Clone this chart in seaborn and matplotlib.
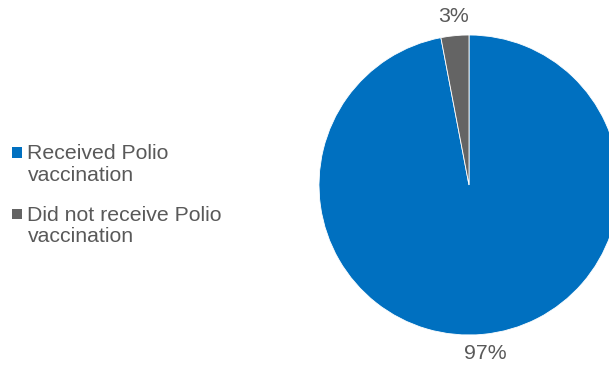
import matplotlib
matplotlib.use("Agg")
import matplotlib.pyplot as plt
import seaborn as sns
from matplotlib.patches import Patch, Rectangle
from matplotlib.legend_handler import HandlerPatch

labels = ["Received Polio\nvaccination", "Did not receive Polio\nvaccination"]
shares = [97, 3]
colors = ["#0070C0", "#646464"]
text_color = "#595959"

sns.set_style("white")
plt.rcParams["font.family"] = ["Liberation Sans", "DejaVu Sans"]

fig = plt.figure(figsize=(6.09, 3.71), dpi=100)
ax = fig.add_axes([0, 0, 1, 1])

wedges, texts, autotexts = ax.pie(
    shares, colors=colors, startangle=90, counterclock=False,
    center=(469, 186), radius=150, autopct="%d%%", pctdistance=1.13,
    wedgeprops={"edgecolor": "white", "linewidth": 0.6},
    textprops={"fontsize": 15.3, "color": text_color},
)
ax.set_xlim(0, 609)
ax.set_ylim(0, 371)
ax.set_aspect("equal")
ax.axis("off")


# square marker sitting next to the first line of a two-line label
def top_square(legend, orig_handle, xdescent, ydescent, width, height, fontsize):
    side = 7.5
    return Rectangle((-xdescent, -ydescent + height / 2 - side / 2 + 8.5), side, side)


handles = [Patch(facecolor=c, edgecolor="none") for c in colors]
leg = fig.legend(handles, labels, loc="center left", bbox_to_anchor=(0.005, 0.474),
                 frameon=False, fontsize=15.3, handlelength=0.5, handleheight=0.5,
                 handletextpad=0.25, labelspacing=1.0, borderaxespad=0,
                 handler_map={Patch: HandlerPatch(patch_func=top_square)})
for t in leg.get_texts():
    t.set_color(text_color)
    t.set_linespacing(1.15)

fig.savefig("out.png", dpi=100)
